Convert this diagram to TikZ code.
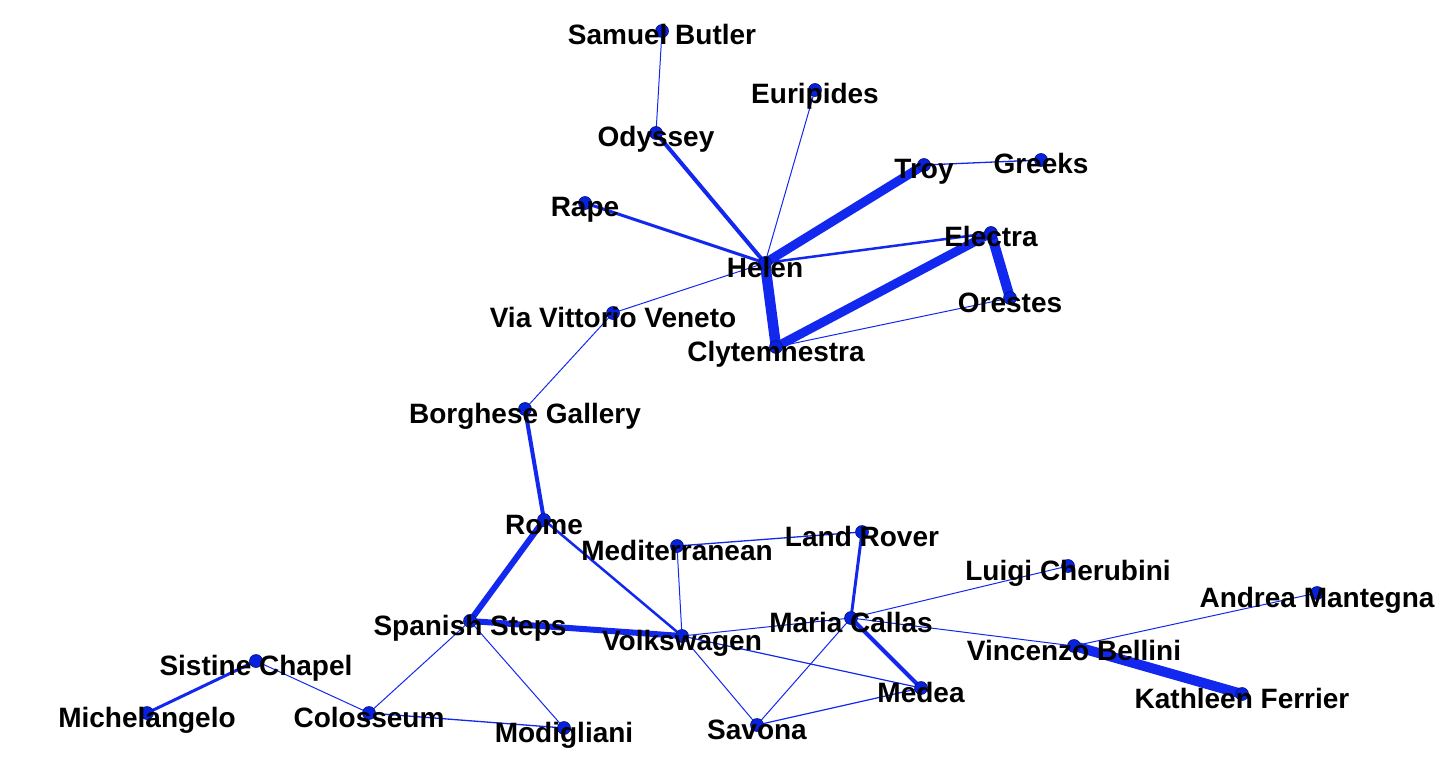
\documentclass[tikz,border=0pt]{standalone}
\usepackage{fontspec}
\setmainfont{Liberation Sans}
\definecolor{edgeblue}{RGB}{18,40,238}
\definecolor{dotblue}{RGB}{6,34,222}
\definecolor{dotline}{RGB}{10,20,120}
\tikzset{
  edge/.style={draw=edgeblue, line cap=butt},
  dot/.style={circle, fill=dotblue, draw=dotline, line width=0.6pt, inner sep=0pt, minimum size=13pt},
  lab/.style={anchor=base, inner sep=0pt, text=black, font=\bfseries\fontsize{28}{30}\selectfont},
}
\newcommand\vdot[1]{\node[dot] (#1D) at (#1) {};}
\newcommand\vlab[2]{\node[lab] (#1L) at ([yshift=-14pt]#1) {#2};}
\begin{document}
\begin{tikzpicture}[x=1pt,y=-1pt]
\useasboundingbox (0,0) rectangle (1456,778);
% vertex positions
\coordinate (samuel) at (662,31);
\coordinate (euripides) at (815,90);
\coordinate (odyssey) at (656,133);
\coordinate (troy) at (924,165);
\coordinate (greeks) at (1041,160);
\coordinate (rape) at (585,203);
\coordinate (electra) at (991,233);
\coordinate (helen) at (765,263);
\coordinate (orestes) at (1010,298);
\coordinate (via) at (613,313);
\coordinate (clyt) at (776,347);
\coordinate (borghese) at (525,409);
\coordinate (rome) at (544,520);
\coordinate (medit) at (677,546);
\coordinate (landrover) at (862,532);
\coordinate (spanish) at (470,621);
\coordinate (vw) at (682,636);
\coordinate (callas) at (851,618);
\coordinate (medea) at (921,688);
\coordinate (savona) at (757,725);
\coordinate (modigliani) at (564,728);
\coordinate (sistine) at (256,661);
\coordinate (michelangelo) at (147,713);
\coordinate (colosseum) at (369,713);
\coordinate (cherubini) at (1068,566);
\coordinate (mantegna) at (1317,593);
\coordinate (bellini) at (1074,646);
\coordinate (ferrier) at (1242,694);
% edges
\draw[edge, line width=1pt] (samuel) -- (odyssey);
\draw[edge, line width=4pt] (odyssey) -- (helen);
\draw[edge, line width=1pt] (euripides) -- (helen);
\draw[edge, line width=3pt] (rape) -- (helen);
\draw[edge, line width=9pt] (troy) -- (helen);
\draw[edge, line width=1.3pt] (troy) -- (greeks);
\draw[edge, line width=2.5pt] (helen) -- (electra);
\draw[edge, line width=10.5pt] (helen) -- (clyt);
\draw[edge, line width=9pt] (clyt) -- (electra);
\draw[edge, line width=10pt] (electra) -- (orestes);
\draw[edge, line width=1pt] (orestes) -- (clyt);
\draw[edge, line width=1pt] (helen) -- (via);
\draw[edge, line width=1pt] (via) -- (borghese);
\draw[edge, line width=4pt] (borghese) -- (rome);
\draw[edge, line width=6pt] (rome) -- (spanish);
\draw[edge, line width=2.5pt] (rome) -- (vw);
\draw[edge, line width=6pt] (spanish) -- (vw);
\draw[edge, line width=1.3pt] (medit) -- (landrover);
\draw[edge, line width=1pt] (medit) -- (vw);
\draw[edge, line width=3pt] (landrover) -- (callas);
\draw[edge, line width=1pt] (vw) -- (callas);
\draw[edge, line width=1.2pt] (vw) -- (medea);
\draw[edge, line width=1pt] (vw) -- (savona);
\draw[edge, line width=1pt] (callas) -- (savona);
\draw[edge, line width=4pt] (callas) -- (medea);
\draw[edge, line width=1.2pt] (savona) -- (medea);
\draw[edge, line width=1pt] (callas) -- (cherubini);
\draw[edge, line width=1pt] (callas) -- (bellini);
\draw[edge, line width=1pt] (bellini) -- (mantegna);
\draw[edge, line width=10pt] (bellini) -- (ferrier);
\draw[edge, line width=1pt] (spanish) -- (colosseum);
\draw[edge, line width=1pt] (spanish) -- (modigliani);
\draw[edge, line width=1.3pt] (colosseum) -- (modigliani);
\draw[edge, line width=1pt] (sistine) -- (colosseum);
\draw[edge, line width=3pt] (sistine) -- (michelangelo);
% dots
\foreach \v in {samuel,euripides,odyssey,troy,greeks,rape,electra,helen,orestes,via,clyt,borghese,rome,medit,landrover,spanish,vw,callas,medea,savona,modigliani,sistine,michelangelo,colosseum,cherubini,mantegna,bellini,ferrier}{\vdot{\v}}
% labels
\vlab{samuel}{Samuel Butler}
\vlab{euripides}{Euripides}
\vlab{odyssey}{Odyssey}
\vlab{troy}{Troy}
\vlab{greeks}{Greeks}
\vlab{rape}{Rape}
\vlab{electra}{Electra}
\vlab{helen}{Helen}
\vlab{orestes}{Orestes}
\vlab{via}{Via Vittorio Veneto}
\vlab{clyt}{Clytemnestra}
\vlab{borghese}{Borghese Gallery}
\vlab{rome}{Rome}
\vlab{medit}{Mediterranean}
\vlab{landrover}{Land Rover}
\vlab{spanish}{Spanish Steps}
\vlab{vw}{Volkswagen}
\vlab{callas}{Maria Callas}
\vlab{medea}{Medea}
\vlab{savona}{Savona}
\vlab{modigliani}{Modigliani}
\vlab{sistine}{Sistine Chapel}
\vlab{michelangelo}{Michelangelo}
\vlab{colosseum}{Colosseum}
\vlab{cherubini}{Luigi Cherubini}
\vlab{mantegna}{Andrea Mantegna}
\vlab{bellini}{Vincenzo Bellini}
\vlab{ferrier}{Kathleen Ferrier}
\end{tikzpicture}
\end{document}
